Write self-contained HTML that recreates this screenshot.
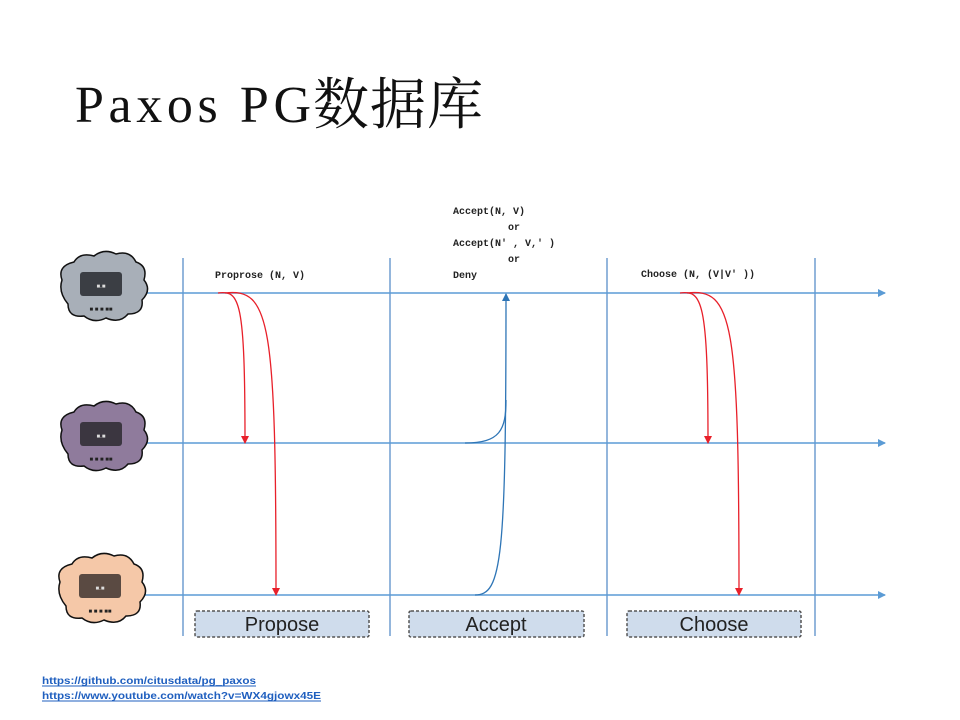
<!DOCTYPE html>
<html><head><meta charset="utf-8"><style>
body{margin:0;background:#fff;width:960px;height:720px;overflow:hidden}
svg{display:block}
</style></head><body>
<svg width="960" height="720" viewBox="0 0 960 720" xmlns="http://www.w3.org/2000/svg">
<defs>
<marker id="bl" markerWidth="8" markerHeight="8" refX="7" refY="4" orient="auto" markerUnits="userSpaceOnUse"><path d="M0,0 L8,4 L0,8 z" fill="#5b9bd5"/></marker>
<marker id="bd" markerWidth="8" markerHeight="8" refX="7" refY="4" orient="auto" markerUnits="userSpaceOnUse"><path d="M0,0 L8,4 L0,8 z" fill="#2e75b6"/></marker>
<marker id="rd" markerWidth="8" markerHeight="8" refX="7" refY="4" orient="auto" markerUnits="userSpaceOnUse"><path d="M0,0 L8,4 L0,8 z" fill="#e8202a"/></marker>
</defs>
<text x="75" y="122" font-family="Liberation Serif, serif" font-size="52" textLength="236" lengthAdjust="spacing" fill="#111">Paxos PG</text>
<text x="313" y="124" font-family="Noto Serif CJK SC, serif" font-size="56" textLength="170" lengthAdjust="spacing" fill="#111">数据库</text>

<g stroke="#5b8fc9" stroke-width="1.3">
<line x1="183" y1="258" x2="183" y2="636"/>
<line x1="390" y1="258" x2="390" y2="636"/>
<line x1="607" y1="258" x2="607" y2="636"/>
<line x1="815" y1="258" x2="815" y2="636"/>
</g>
<g stroke="#5b9bd5" stroke-width="1.5" marker-end="url(#bl)">
<line x1="140" y1="293" x2="885" y2="293"/>
<line x1="140" y1="443" x2="885" y2="443"/>
<line x1="140" y1="595" x2="885" y2="595"/>
</g>

<g font-family="Liberation Mono, monospace" font-size="10" font-weight="bold" fill="#222">
<text x="215" y="278">Proprose (N, V)</text>
<text x="453" y="214">Accept(N, V)</text>
<text x="508" y="230">or</text>
<text x="453" y="246">Accept(N' , V,' )</text>
<text x="508" y="262">or</text>
<text x="453" y="278">Deny</text>
<text x="641" y="277">Choose (N, (V|V' ))</text>
</g>

<g fill="none" stroke="#e8202a" stroke-width="1.3">
<path d="M218,293 C240,290 245,300 245,443" marker-end="url(#rd)"/>
<path d="M225,293 C270,288 276,320 276,595" marker-end="url(#rd)"/>
<path d="M680,293 C702,290 708,300 708,443" marker-end="url(#rd)"/>
<path d="M687,293 C733,288 739,320 739,595" marker-end="url(#rd)"/>
</g>
<g fill="none" stroke="#2e75b6" stroke-width="1.3">
<path d="M465,443 C500,443 506,430 506,400"/>
<path d="M475,595 C502,595 506,560 506,294" marker-end="url(#bd)"/>
</g>

<g>
<path d="M62,280 q-5,-14 12,-18 q6,-10 20,-6 q10,-8 22,-2 q14,-4 20,8 q12,4 8,18 q8,10 -2,20 q2,14 -14,14 q-8,10 -22,4 q-12,6 -22,-2 q-16,2 -16,-12 q-10,-12 -6,-24 z" fill="#a8afb8" stroke="#111" stroke-width="1.5"/>
<rect x="80" y="272" width="42" height="24" rx="3" fill="#3b3e44"/>
<text x="101" y="288" font-size="6" fill="#ddd" text-anchor="middle" font-family="Liberation Sans, sans-serif">■.■</text>
<text x="101" y="311" font-size="6" fill="#222" text-anchor="middle" font-family="Liberation Sans, sans-serif" font-weight="bold">■ ■ ■ ■■</text>

<path d="M62,430 q-5,-14 12,-18 q6,-10 20,-6 q10,-8 22,-2 q14,-4 20,8 q12,4 8,18 q8,10 -2,20 q2,14 -14,14 q-8,10 -22,4 q-12,6 -22,-2 q-16,2 -16,-12 q-10,-12 -6,-24 z" fill="#8f7b9c" stroke="#111" stroke-width="1.5"/>
<rect x="80" y="422" width="42" height="24" rx="3" fill="#3b3640"/>
<text x="101" y="438" font-size="6" fill="#ddd" text-anchor="middle" font-family="Liberation Sans, sans-serif">■.■</text>
<text x="101" y="461" font-size="6" fill="#222" text-anchor="middle" font-family="Liberation Sans, sans-serif" font-weight="bold">■ ■ ■ ■■</text>

<path d="M60,582 q-5,-14 12,-18 q6,-10 20,-6 q10,-8 22,-2 q14,-4 20,8 q12,4 8,18 q8,10 -2,20 q2,14 -14,14 q-8,10 -22,4 q-12,6 -22,-2 q-16,2 -16,-12 q-10,-12 -6,-24 z" fill="#f5c8a8" stroke="#111" stroke-width="1.5"/>
<rect x="79" y="574" width="42" height="24" rx="3" fill="#5a4a42"/>
<text x="100" y="590" font-size="6" fill="#ddd" text-anchor="middle" font-family="Liberation Sans, sans-serif">■.■</text>
<text x="100" y="613" font-size="6" fill="#222" text-anchor="middle" font-family="Liberation Sans, sans-serif" font-weight="bold">■ ■ ■ ■■</text>
</g>

<g fill="#cfdcec" stroke="#555" stroke-width="1.5" stroke-dasharray="3,2">
<rect x="195" y="611" width="174" height="26" rx="2"/>
<rect x="409" y="611" width="175" height="26" rx="2"/>
<rect x="627" y="611" width="174" height="26" rx="2"/>
</g>
<g font-family="Liberation Sans, sans-serif" font-size="20" fill="#222" text-anchor="middle">
<text x="282" y="631">Propose</text>
<text x="496" y="631">Accept</text>
<text x="714" y="631">Choose</text>
</g>

<g font-family="Liberation Sans, sans-serif" font-size="10" font-weight="bold" fill="#1f5fbf">
<text x="42" y="684" textLength="214" lengthAdjust="spacingAndGlyphs">https://github.com/citusdata/pg_paxos</text>
<text x="42" y="699" textLength="279" lengthAdjust="spacingAndGlyphs">https://www.youtube.com/watch?v=WX4gjowx45E</text>
</g>
<line x1="42" y1="686" x2="256" y2="686" stroke="#1f5fbf" stroke-width="1"/>
<line x1="42" y1="701" x2="321" y2="701" stroke="#1f5fbf" stroke-width="1"/>
</svg>
</body></html>
